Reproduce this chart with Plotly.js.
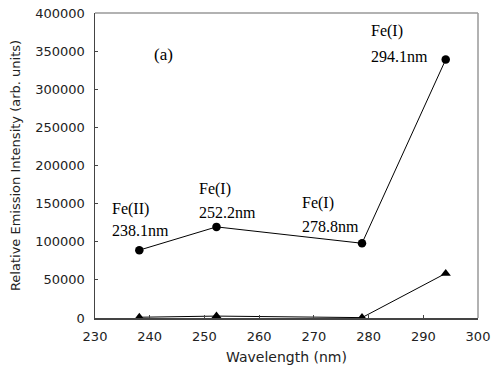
<!DOCTYPE html>
<html>
<head>
<meta charset="utf-8">
<script src="https://cdn.plot.ly/plotly-3.0.1.min.js"></script>
<style>html,body{margin:0;padding:0;background:#fff;}#chart{width:494px;height:372px;}</style>
</head>
<body>
<div id="chart"></div>
<script>
const wavelengths = [238.1, 252.2, 278.8, 294.1];
const seriesCircle = [89000, 119500, 98000, 339000];
const seriesTriangle = [1000, 2500, 500, 58500];
const lineNames = ["Fe(II)", "Fe(I)", "Fe(I)", "Fe(I)"];
const lineWaves = ["238.1nm", "252.2nm", "278.8nm", "294.1nm"];
const xTicks = [230, 240, 250, 260, 270, 280, 290, 300];
const yTicks = [0, 50000, 100000, 150000, 200000, 250000, 300000, 350000, 400000];

const traces = [
  {x: wavelengths, y: seriesCircle, type: 'scatter', mode: 'lines+markers',
   line: {color: '#000', width: 1}, marker: {symbol: 'circle', size: 8.5, color: '#000'}, cliponaxis: false},
  {x: wavelengths, y: seriesTriangle, type: 'scatter', mode: 'lines+markers',
   line: {color: '#000', width: 1}, marker: {symbol: 'triangle-up', size: 9, color: '#000'}, cliponaxis: false}
];

const annFont = {family: 'Liberation Serif, Times New Roman, serif', size: 16, color: '#000'};
const labelPos = [
  {x: 232.7, y1: 143400, y2: 115100},
  {x: 248.6, y1: 169600, y2: 138800},
  {x: 267.5, y1: 151200, y2: 120400},
  {x: 280.1, y1: 376400, y2: 342900}
];
const annotations = [];
labelPos.forEach((p, i) => {
  annotations.push({x: p.x, y: p.y1, xref: 'x', yref: 'y', text: lineNames[i], showarrow: false, xanchor: 'left', yanchor: 'middle', font: annFont});
  annotations.push({x: p.x, y: p.y2, xref: 'x', yref: 'y', text: lineWaves[i], showarrow: false, xanchor: 'left', yanchor: 'middle', font: annFont});
});
annotations.push({x: 242.6, y: 345000, xref: 'x', yref: 'y', text: '(a)', showarrow: false, xanchor: 'center', yanchor: 'middle', font: {family: 'Liberation Serif, Times New Roman, serif', size: 17, color: '#000'}});

const tickFont = {family: 'DejaVu Sans, sans-serif', size: 13, color: '#222'};

const layout = {
  width: 494, height: 372,
  margin: {l: 95, r: 16, t: 13, b: 54},
  paper_bgcolor: '#fff', plot_bgcolor: '#fff',
  showlegend: false,
  xaxis: {
    range: [230, 300], tickvals: xTicks, ticktext: xTicks.map(String),
    ticks: 'inside', ticklen: 3, tickcolor: '#444', showgrid: false, zeroline: false,
    showline: true, linecolor: '#444', linewidth: 1.5,
    tickfont: tickFont, ticklabelstandoff: 6,
    title: {text: 'Wavelength (nm)', font: {family: 'DejaVu Sans, sans-serif', size: 14, color: '#222'}, standoff: 9}
  },
  yaxis: {
    range: [0, 400000], tickvals: yTicks, ticktext: yTicks.map(String),
    ticks: 'inside', ticklen: 3, tickcolor: '#444', showgrid: false, zeroline: false,
    showline: true, linecolor: '#444', linewidth: 1.5,
    tickfont: tickFont, ticklabelstandoff: 6,
    title: {text: 'Relative Emission Intensity (arb. units)', font: tickFont, standoff: 11}
  },
  shapes: [
    {type: 'line', xref: 'paper', yref: 'paper', x0: 0, x1: 1, y0: 1, y1: 1, line: {color: '#999', width: 1.5}},
    {type: 'line', xref: 'paper', yref: 'paper', x0: 1, x1: 1, y0: 0, y1: 1, line: {color: '#999', width: 1.5}}
  ],
  annotations: annotations
};

Plotly.newPlot('chart', traces, layout, {staticPlot: true, displayModeBar: false});
</script>
</body>
</html>
